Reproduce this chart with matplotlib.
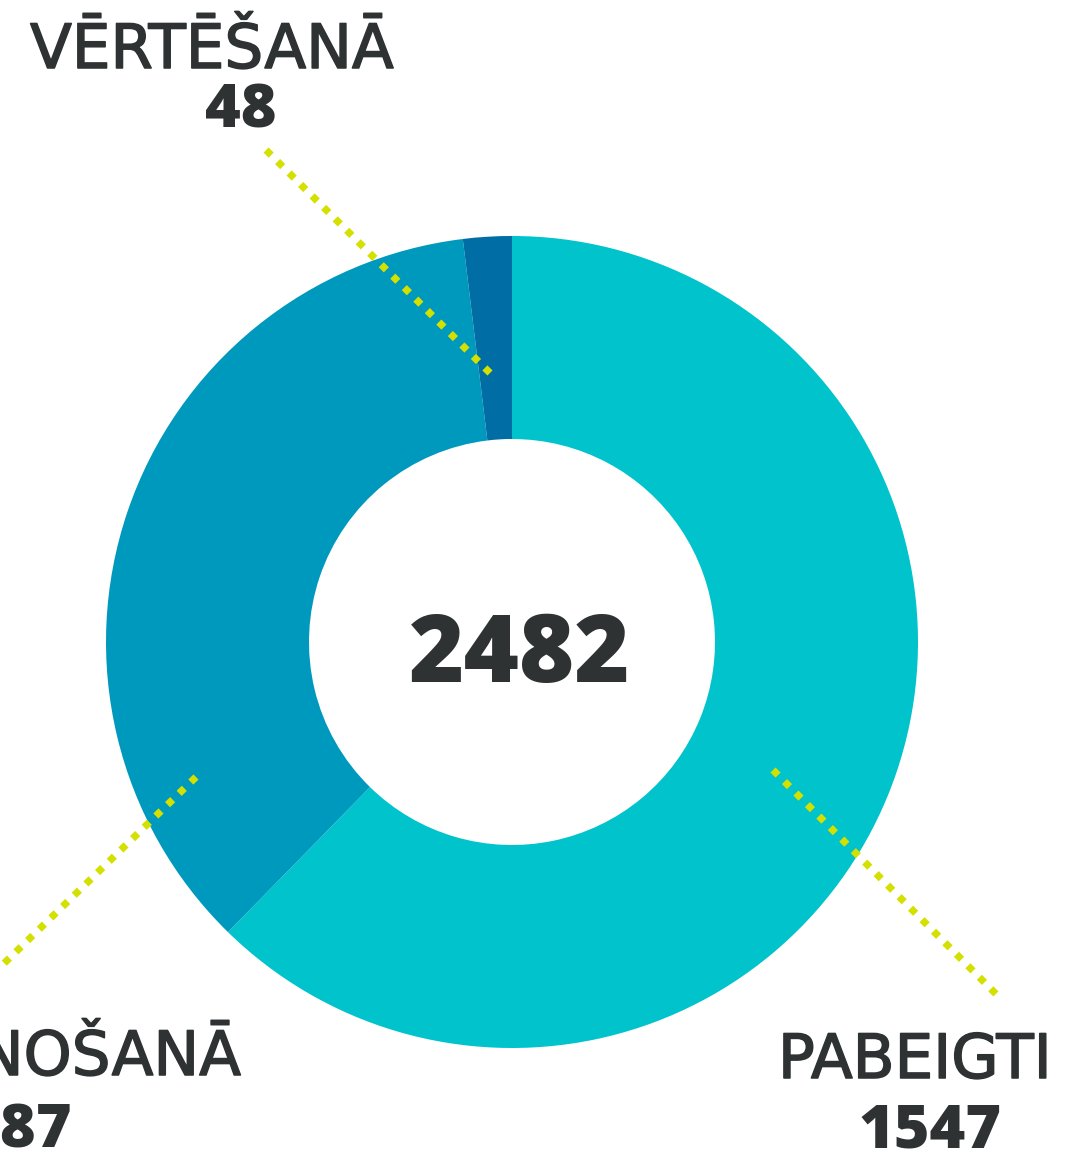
import matplotlib
matplotlib.use("Agg")
import matplotlib.pyplot as plt
import matplotlib.patheffects as pe

# data
labels = ["PABEIGTI", "ĪSTENOŠANĀ", "VĒRTĒŠANĀ"]
values = [1547, 887, 48]
colors = ["#00C3CB", "#0099BE", "#006EA5"]
total = sum(values)

W, H = 1065, 1156
text_col = "#2E3233"
dot_col = "#D4E000"

fig = plt.figure(figsize=(W / 100, H / 100), dpi=100)
ax = fig.add_axes([0, 0, 1, 1])


def py(y):
    # pixel row (from top) -> data y
    return H - y


ax.pie(values, colors=colors, startangle=90, counterclock=False,
       center=(512, py(642)), radius=406, frame=True,
       wedgeprops=dict(width=203, linewidth=0))
ax.set_xlim(0, W)
ax.set_ylim(0, H)
ax.set_aspect("equal")
ax.axis("off")

# leader lines (dotted, diamond dots)
leaders = [
    ((773, 770), (1001, 999)),   # PABEIGTI
    ((196, 777), (-10, 977)),    # ĪSTENOŠANĀ
    ((490, 373), (261, 145)),    # VĒRTĒŠANĀ
]
for (x0, y0), (x1, y1) in leaders:
    ax.plot([x0, x1], [py(y0), py(y1)], color=dot_col, lw=5.2,
            linestyle=(0, (1, 1.25)), dash_capstyle="butt", clip_on=False)

lab_font = dict(family="DejaVu Sans", fontsize=44, color=text_col,
                va="baseline",
                path_effects=[pe.withStroke(linewidth=1.1, foreground=text_col)])
num_font = dict(family="Open Sans", fontsize=44, fontweight="heavy",
                color=text_col, va="baseline")

# label / number placement: (x, baseline, ha)
lab_pos = [(915, 1078, "center"), (241, 1075, "right"), (212, 68, "center")]
num_pos = [(930, 1148, "center"), (72, 1148, "right"), (241, 128, "center")]

for lab, val, (lx, ly, lha), (nx, ny, nha) in zip(labels, values, lab_pos, num_pos):
    ax.text(lx, py(ly), lab, ha=lha, **lab_font)
    ax.text(nx, py(ny), str(val), ha=nha, **num_font)

ax.text(520, py(682), str(total), ha="center", va="baseline",
        family="Open Sans", fontsize=68, fontweight="heavy", color=text_col)

fig.savefig("out.png", dpi=100, facecolor="white")
